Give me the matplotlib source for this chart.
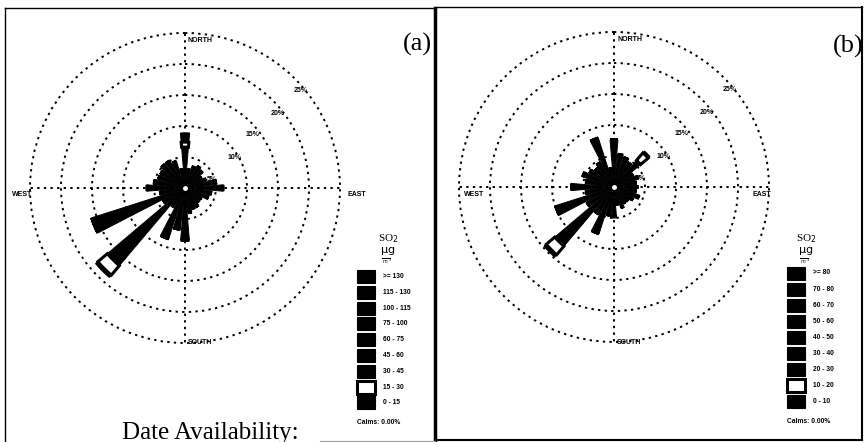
import numpy as np
import matplotlib.pyplot as plt
from matplotlib.patches import Rectangle

# 32 direction sectors, 11.25 deg each, clockwise from north
n_dir = 32
angles = np.arange(n_dir) * 360.0 / n_dir

# panel (a): total frequency (%) per direction
total_a = [8.9, 3.0, 3.6, 4.0, 3.7, 3.0, 3.5, 5.0, 6.1, 4.2, 3.9, 3.0, 3.0, 3.5, 3.5, 4.0,
           8.4, 6.7, 8.6, 3.5, 18.9, 4.0, 15.8, 4.0, 6.1, 5.0, 4.5, 4.5, 5.0, 5.0, 4.5, 3.0]
# second class (white) and lowest class (outer tip) share, %
band_a = [0.8, 0, 0, 0, 0, 0, 0, 0, 0, 0, 0, 0, 0, 0, 0, 0,
          0, 0, 0, 0, 2.0, 0, 0, 0, 0, 0, 0, 0, 0, 0, 0, 0]
tip_a = [1.5, 0, 0, 0, 0, 0, 0, 0, 0, 0, 0, 0, 0, 0, 0, 0,
         0, 0, 0, 0, 0.5, 0, 0, 0, 0, 0, 0, 0, 0, 0, 0, 0]

# panel (b)
total_b = [7.6, 5.3, 5.0, 4.5, 7.6, 3.5, 4.0, 3.5, 3.7, 3.5, 4.2, 3.5, 3.0, 3.0, 3.5, 2.8,
           4.8, 4.6, 7.9, 5.0, 14.8, 5.0, 9.9, 4.5, 6.8, 4.5, 5.3, 4.5, 4.0, 4.5, 8.3, 3.0]
band_b = [0, 0, 0, 0, 1.6, 0, 0, 0, 0, 0, 0, 0, 0, 0, 0, 0,
          0, 0, 0, 0, 1.8, 0, 0, 0, 0, 0, 0, 0, 0, 0, 0, 0]
tip_b = [0, 0, 0, 0, 0.4, 0, 0, 0, 0, 0, 0, 0, 0, 0, 0, 0,
         0, 0, 0, 0, 0.5, 0, 0, 0, 0, 0, 0, 0, 0, 0, 0, 0]

rings = [5, 10, 15, 20, 25]
classes_a = [">= 130", "115 - 130", "100 - 115", "75 - 100", "60 - 75", "45 - 60", "30 - 45", "15 - 30", "0 - 15"]
classes_b = [">= 80", "70 - 80", "60 - 70", "50 - 60", "40 - 50", "30 - 40", "20 - 30", "10 - 20", "0 - 10"]

W, H = 867, 442
rmax = 25.5
R = 155 * rmax / 25
sans = ['Liberation Sans', 'DejaVu Sans']
serif = ['Liberation Serif', 'DejaVu Serif']

fig = plt.figure(figsize=(W / 100, H / 100), dpi=100)
fig.patch.set_facecolor('white')

# overlay in pixel coordinates for frames and legends
ov = fig.add_axes([0, 0, 1, 1])
ov.set_xlim(0, W)
ov.set_ylim(H, 0)
ov.axis('off')


def rose(cx, cy, total, band, tip, west_x, east_x):
    ax = fig.add_axes([(cx - R) / W, (H - cy - R) / H, 2 * R / W, 2 * R / H], projection='polar')
    ax.set_theta_zero_location('N')
    ax.set_theta_direction(-1)
    ax.set_rlim(0, rmax)
    ax.set_rticks(rings)
    ax.set_yticklabels([])
    ax.set_thetagrids([0, 90, 180, 270], labels=[])
    ax.grid(True, color='black', linestyle=(0, (1.2, 2.2)), linewidth=1.4)
    ax.spines['polar'].set_visible(False)
    ax.set_facecolor('none')
    ax.set_axisbelow(True)

    th = np.deg2rad(angles)
    wd = np.deg2rad(360.0 / n_dir) * 0.85
    total = np.array(total)
    band = np.array(band)
    tip = np.array(tip)
    inner = total - band - tip
    ax.bar(th, inner, width=wd, color='black', edgecolor='black', linewidth=0.7, zorder=3)
    ax.bar(th, band, width=wd, bottom=inner, color='white', edgecolor='black', linewidth=2.2, zorder=4)
    ax.bar(th, tip, width=wd, bottom=inner + band, color='black', edgecolor='black', linewidth=0.7, zorder=3)
    ax.plot(0, 0, 'o', color='white', markersize=2.5, zorder=5)

    # ring labels
    lab_pos = [(73, 4.6), (59, 9.4), (52, 13.9), (51, 19.2), (50, 24.4)]
    for r, (a, rr) in zip(rings, lab_pos):
        ax.text(np.deg2rad(a), rr, f"{r}%", fontsize=5, fontweight='bold', family=sans,
                ha='center', va='center', zorder=6)

    ov.text(cx + 3, cy - R + 11, "NORTH", fontsize=5, fontweight='bold', family=sans, va='center')
    ov.text(cx + 3, cy + 155, "SOUTH", fontsize=5, fontweight='bold', family=sans, va='center')
    ov.text(west_x, cy + 7, "WEST", fontsize=5, fontweight='bold', family=sans, va='center', ha='center')
    ov.text(east_x, cy + 7, "EAST", fontsize=5, fontweight='bold', family=sans, va='center', ha='center')
    return ax


def legend(x0, y0, step, labels, title_x):
    ov.text(title_x, 239, r"SO$_2$", fontsize=8, family=serif, ha='center', va='center')
    ov.text(title_x, 251, r"$\mathrm{\mu g}$", fontsize=8, family=serif, ha='center', va='center')
    ov.text(title_x - 1, 261, r"$\overline{\ m\ }^{3}$", fontsize=3.5, ha='center', va='center')
    for i, lab in enumerate(labels):
        y = y0 + i * step
        white = (i == len(labels) - 2)
        ov.add_patch(Rectangle((x0, y - 6.5), 18, 13, facecolor='white' if white else 'black',
                               edgecolor='black', linewidth=2.2 if white else 0.8))
        ov.text(x0 + 26, y, lab, fontsize=4.8, fontweight='bold', family=sans, va='center')
    ov.text(x0, y0 + len(labels) * step + 4, "Calms: 0.00%", fontsize=4.8, fontweight='bold',
            family=sans, va='center')


rose(185, 188, total_a, band_a, tip_a, 22, 357)
rose(614, 187, total_b, band_b, tip_b, 474, 762)

legend(357, 276.5, 15.8, classes_a, 388)
legend(787, 273, 16.1, classes_b, 806)

# panel labels and bottom text
ov.text(417, 44, "(a)", fontsize=19, family=serif, ha='center', va='center')
ov.text(848, 46, "(b)", fontsize=19, family=serif, ha='center', va='center')
ov.text(210, 422, "Date Availability:", fontsize=18, family=serif, ha='center', va='top')

# frames
lk = dict(color='black', linewidth=1.0)
ov.plot([5, 5], [8, 442], **lk)
ov.plot([5, 435], [8, 8], **lk)
ov.plot([435, 435], [8, 442], color='black', linewidth=2.5)
ov.plot([437, 862], [7, 7], **lk)
ov.plot([862, 862], [7, 440], color='black', linewidth=1.5)
ov.plot([437, 862], [440, 440], color='black', linewidth=1.5)
ov.plot([320, 435], [441, 441], color='0.6', linewidth=0.8)

fig.savefig('out.png', dpi=100)
